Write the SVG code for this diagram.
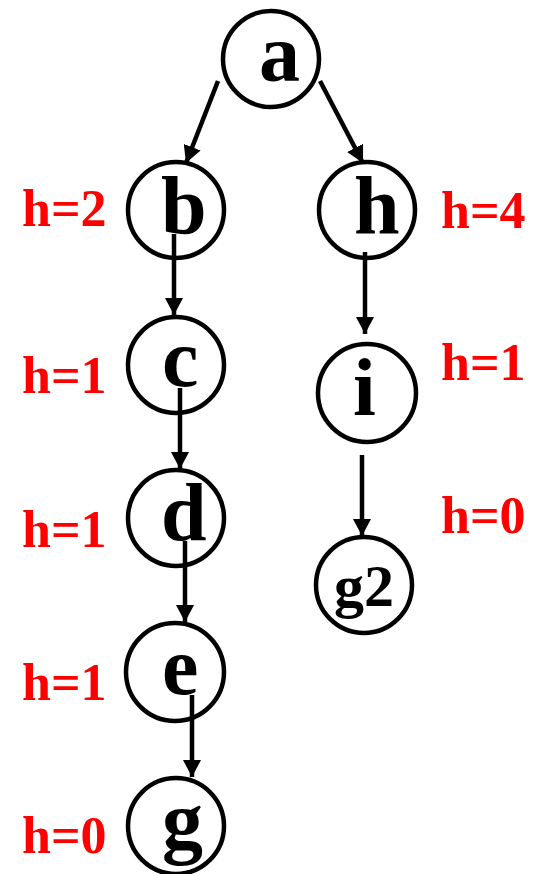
<svg xmlns="http://www.w3.org/2000/svg" width="536" height="874" viewBox="0 0 536 874">
<style>
.node circle{fill:#fff;stroke:#000;stroke-width:4.5}
.lbl{font-family:"Liberation Serif","Times New Roman",serif;font-weight:bold;font-size:82px;fill:#000}
.h{font-family:"Liberation Serif","Times New Roman",serif;font-weight:bold;font-size:52px;fill:#ff0000}
.edge{stroke:#000;stroke-width:4.5;fill:none;marker-end:url(#arr)}
</style>
<defs>
<marker id="arr" markerUnits="userSpaceOnUse" markerWidth="17" markerHeight="18" refX="17" refY="9" orient="auto" viewBox="0 0 17 18">
<path d="M0,0 L17,9 L0,18 z" fill="#000"/>
</marker>
</defs>
<g id="node-a" class="node"><circle cx="271" cy="59" r="48"/><text class="lbl" x="259" y="81">a</text></g>
<g id="node-b" class="node"><circle cx="176" cy="210" r="48"/><text class="lbl" x="161" y="233">b</text></g>
<g id="node-h" class="node"><circle cx="367" cy="210" r="48"/><text class="lbl" x="354" y="233">h</text></g>
<g id="node-c" class="node"><circle cx="176" cy="365" r="48"/><text class="lbl" x="162" y="386">c</text></g>
<g id="node-i" class="node"><circle cx="367" cy="393" r="49"/><text class="lbl" x="353" y="415">i</text></g>
<g id="node-d" class="node"><circle cx="176" cy="518" r="48"/><text class="lbl" x="161" y="540">d</text></g>
<g id="node-g2" class="node"><circle cx="364" cy="585" r="48"/><text class="lbl" x="334" y="606" style="font-size:60px">g2</text></g>
<g id="node-e" class="node"><circle cx="175" cy="672" r="49"/><text class="lbl" x="162" y="694">e</text></g>
<g id="node-g" class="node"><circle cx="176" cy="826" r="48"/><text class="lbl" x="162" y="848">g</text></g>
<g id="labels">
<text class="h" x="22" y="226">h=2</text>
<text class="h" x="441" y="228">h=4</text>
<text class="h" x="22" y="393">h=1</text>
<text class="h" x="441" y="380">h=1</text>
<text class="h" x="22" y="547">h=1</text>
<text class="h" x="441" y="533">h=0</text>
<text class="h" x="22" y="700">h=1</text>
<text class="h" x="22" y="853">h=0</text>
</g>
<g id="connectors">
<line class="edge" x1="218" y1="81" x2="186" y2="163"/>
<line class="edge" x1="320" y1="81" x2="363" y2="163"/>
<line class="edge" x1="174" y1="234" x2="174" y2="315"/>
<line class="edge" x1="180" y1="388" x2="180" y2="469"/>
<line class="edge" x1="185" y1="541" x2="185" y2="622"/>
<line class="edge" x1="192" y1="695" x2="192" y2="777"/>
<line class="edge" x1="365" y1="252" x2="365" y2="334"/>
<line class="edge" x1="362" y1="455" x2="362" y2="536"/>
</g>
</svg>
